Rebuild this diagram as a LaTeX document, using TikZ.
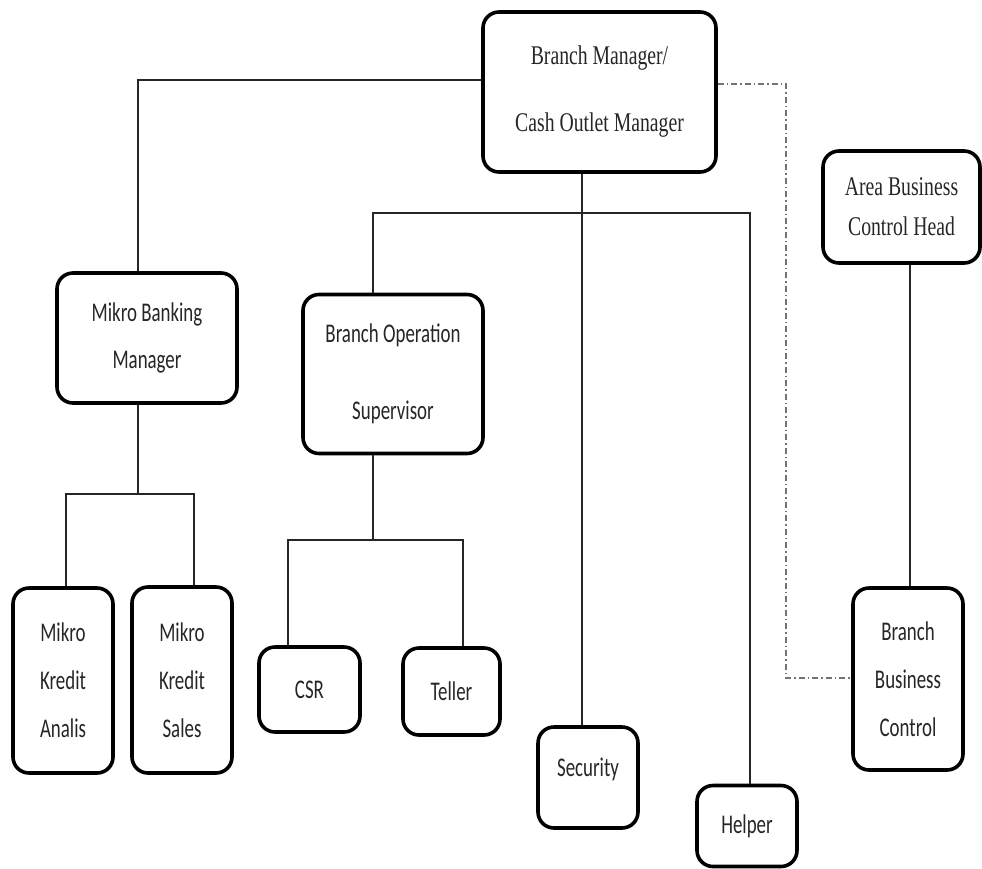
\documentclass[tikz,border=0pt]{standalone}
\usepackage{fontspec}
\newfontfamily\serifc[FakeStretch=0.73]{Liberation Serif}
\newfontfamily\sansc[FakeStretch=0.70]{Carlito}
\begin{document}
\begin{tikzpicture}[x=1pt,y=-1pt,
  box/.style={draw=black, line width=3.6pt, rounded corners=16pt, fill=white, inner sep=0pt, align=center, text=black!85},
  ser/.style={font=\serifc\fontsize{27}{#1}\selectfont},
  san/.style={font=\sansc\fontsize{27}{#1}\selectfont},
  conn/.style={line width=1.3pt, draw=black!85},
  dashdot/.style={line width=1.3pt, draw=black!55, dash pattern=on 6pt off 3pt on 1.5pt off 3pt}]
\useasboundingbox (0,0) rectangle (982,868);
\fill[white] (0,0) rectangle (982,868);

% nodes
\node[box, ser=67, minimum width=233, minimum height=160] (BM) at (599.5,92) {Branch Manager/\\Cash Outlet Manager};
\node[box, ser=40, minimum width=157, minimum height=112] (ABCH) at (901.5,207) {Area Business\\Control Head};
\node[box, san=47, minimum width=180, minimum height=130] (MBM) at (147,338) {Mikro Banking\\Manager};
\node[box, san=77, minimum width=180, minimum height=159] (BOS) at (393,374) {Branch Operation\\Supervisor};
\node[box, san=48, minimum width=100, minimum height=185] (MKA) at (63,680.5) {Mikro\\Kredit\\Analis};
\node[box, san=48, minimum width=100, minimum height=186] (MKS) at (182,680) {Mikro\\Kredit\\Sales};
\node[box, san=32, minimum width=101, minimum height=85] (CSR) at (309.5,689.5) {CSR};
\node[box, san=32, minimum width=97, minimum height=87] (Teller) at (451.5,691.5) {Teller};
\node[box, san=32, minimum width=100, minimum height=101] (Sec) at (588,777.5) {\raisebox{20pt}{Security}};
\node[box, san=32, minimum width=100, minimum height=81] (Helper) at (747,826) {Helper};
\node[box, san=48, minimum width=110, minimum height=182] (BBC) at (908,679) {Branch\\Business\\Control};

% junction coordinates
\coordinate (n) at (138,80);
\coordinate (jL) at (373,213);
\coordinate (jM) at (582,213);
\coordinate (jR) at (750,213);
\coordinate (m) at (138,494);
\coordinate (mL) at (66,494);
\coordinate (mR) at (194,494);
\coordinate (k) at (373,540);
\coordinate (kL) at (288,540);
\coordinate (kR) at (463,540);
\coordinate (d1) at (786,84);
\coordinate (d2) at (786,678);
\coordinate (v) at (910,400);

% connectors
\draw[conn] (BM.west |- n) -- (n) -- (MBM.north -| n);
\draw[conn] (BM.south -| jM) -- (jM) -- (Sec.north -| jM);
\draw[conn] (BOS.north -| jL) -- (jL) -- (jR) -- (Helper.north -| jR);
\draw[conn] (MBM.south -| m) -- (m);
\draw[conn] (MKA.north -| mL) -- (mL) -- (mR) -- (MKS.north -| mR);
\draw[conn] (BOS.south -| k) -- (k);
\draw[conn] (CSR.north -| kL) -- (kL) -- (kR) -- (Teller.north -| kR);
\draw[conn] (ABCH.south -| v) -- (BBC.north -| v);
\draw[dashdot] (BM.east |- d1) -- (d1) -- (d2) -- (BBC.west |- d2);
\end{tikzpicture}
\end{document}
